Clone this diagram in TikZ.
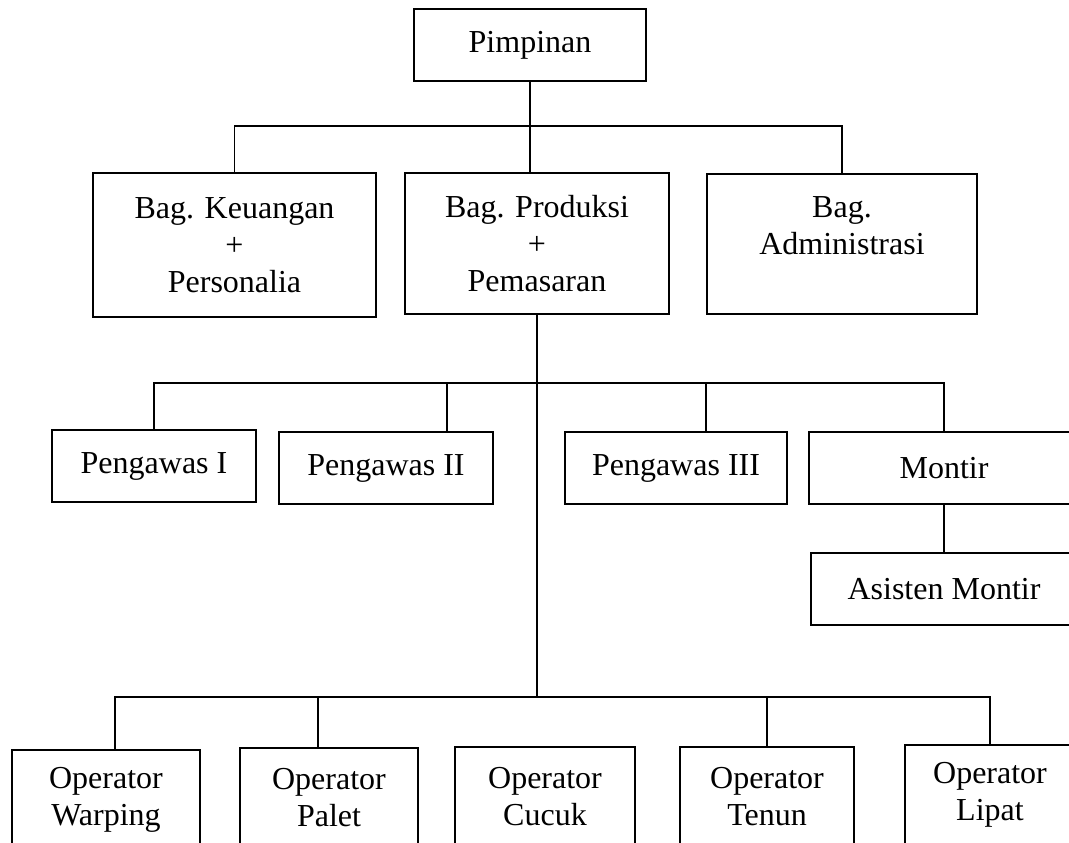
\documentclass[tikz,border=0pt]{standalone}
\usepackage{fontspec}
\setmainfont{Liberation Serif}
\usetikzlibrary{calc}

\begin{document}
\begin{tikzpicture}[x=0.7pt, y=-0.7pt,
    box/.style={draw, line width=1.4pt, inner sep=0pt, align=center,
        font=\fontsize{22.4}{25.9}\selectfont},
    wh/.style 2 args={minimum width=#1*0.7pt, minimum height=#2*0.7pt},
    link/.style={line width=1pt}]
    \useasboundingbox (0,0) rectangle (1069,843);
    \fill[white] (0,0) rectangle (1069,843);
    \clip (0,0) rectangle (1069,843);
    %
    \node[box, wh={232}{72}] (pimp) at (530,45) {Pimpinan};
    \node[box, wh={283}{144}] (keu) at (234.5,245) {Bag. Keuangan\\+\\Personalia};
    \node[box, wh={264}{141}] (prod) at (537,243.5) {Bag. Produksi\\+\\Pemasaran};
    \node[box, wh={270}{140}] (adm) at (842,244) {Bag.\\Administrasi\\\mbox{}};
    %
    \node[box, wh={204}{72}] (peng1) at (154,466) {Pengawas I};
    \node[box, wh={214}{72}] (peng2) at (386,468) {Pengawas II};
    \node[box, wh={222}{72}] (peng3) at (676,468) {Pengawas III};
    \node[box, wh={270}{72}] (montir) at (944,468) {Montir};
    \node[box, wh={266}{72}] (asist) at (944,589) {Asisten Montir};
    %
    \node[box, wh={188}{100}] (warp) at (106,800) {Operator\\Warping};
    \node[box, wh={178}{100}] (palet) at (329,798) {Operator\\Palet};
    \node[box, wh={180}{100}] (cucuk) at (545,797) {Operator\\Cucuk};
    \node[box, wh={174}{100}] (tenun) at (767,797) {Operator\\Tenun};
    \node[box, wh={170}{100}] (lipat) at (990,795) {Operator\\Lipat};
    %
    \coordinate (bus1) at (0,126);
    \coordinate (bus2) at (0,383);
    \coordinate (bus3) at (0,697);
    %
    \draw[link] (pimp.south) -- (pimp.south |- prod.north);
    \draw[link] (keu.north) -- (keu.north |- bus1) -- (adm.north |- bus1) -- (adm.north);
    \draw[link] (prod.south) -- (prod.south |- bus3);
    %
    \draw[link] (peng1.north) -- (peng1.north |- bus2) -- (montir.north |- bus2) -- (montir.north);
    \draw[link] ($(peng2.north)+(61,0)$) coordinate (p2top) -- (p2top |- bus2);
    \draw[link] ($(peng3.north)+(30,0)$) coordinate (p3top) -- (p3top |- bus2);
    \draw[link] (montir.south) -- (asist.north);
    %
    \draw[link] ($(warp.north)+(9,0)$) coordinate (wtop) -- (wtop |- bus3) -- (lipat.north |- bus3) -- (lipat.north);
    \draw[link] ($(palet.north)+(-11,0)$) coordinate (ptop) -- (ptop |- bus3);
    \draw[link] (tenun.north) -- (tenun.north |- bus3);
\end{tikzpicture}
\end{document}
